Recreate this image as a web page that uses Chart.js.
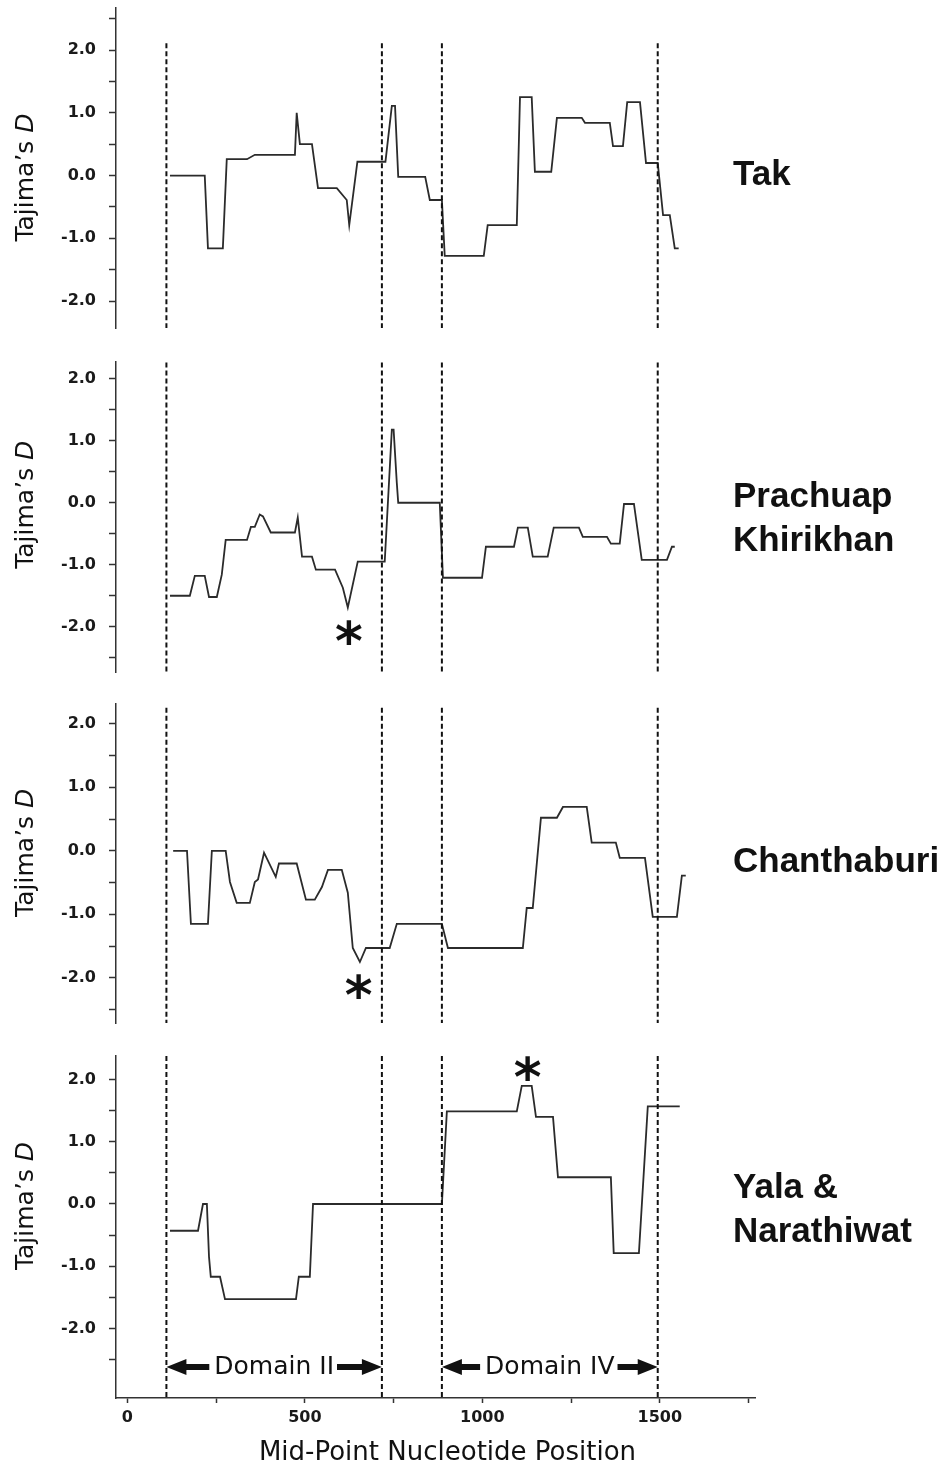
<!DOCTYPE html>
<html>
<head>
<meta charset="utf-8">
<script src="https://cdn.jsdelivr.net/npm/chart.js@4.4.1/dist/chart.umd.min.js"></script>
<style>
  body { margin: 0; background: #fff; width: 950px; height: 1464px; position: relative; overflow: hidden; }
  canvas { position: absolute; left: 0; }
  .lbl { position: absolute; left: 733px; font: bold 35px "Liberation Sans", Arial, sans-serif; line-height: 44px; color: #111; white-space: nowrap; }
  #xtitle { position: absolute; left: 0; width: 895px; top: 1436px; text-align: center; font: 26px "DejaVu Sans", sans-serif; line-height: 30px; color: #111; }
</style>
</head>
<body>
<canvas id="c1"></canvas>
<canvas id="c2"></canvas>
<canvas id="c3"></canvas>
<canvas id="c4"></canvas>
<div class="lbl" style="top:151px">Tak</div>
<div class="lbl" style="top:473px">Prachuap<br>Khirikhan</div>
<div class="lbl" style="top:838px">Chanthaburi</div>
<div class="lbl" style="top:1164px">Yala &amp;<br>Narathiwat</div>
<div id="xtitle">Mid-Point Nucleotide Position</div>
<script>
var ink = "#2b2b2b";

// Domaines (positions en nucléotides)
const domainNames = ["Domain II", "Domain IV"];
const domainStart = [110, 886];
const domainEnd = [717, 1494];

const yTickValues = [-2.5, -2, -1.5, -1, -0.5, 0, 0.5, 1, 1.5, 2, 2.5];
const xTickValues = [0, 250, 500, 750, 1000, 1250, 1500, 1750];

// Tak
const takX = [120, 218, 227, 269, 280, 337, 359, 472, 477, 486, 520, 537, 590, 618, 625, 648, 727, 745, 754, 763,
  839, 852, 886, 894, 1004, 1015, 1097, 1106, 1139, 1148, 1194, 1210, 1280, 1289, 1359, 1368, 1396, 1408, 1444, 1461,
  1494, 1509, 1528, 1542, 1553];
const takY = [0, 0, -1.16, -1.16, 0.26, 0.26, 0.33, 0.33, 1.0, 0.5, 0.5, -0.2, -0.2, -0.39, -0.79, 0.22, 0.22, 1.11, 1.11, -0.02,
  -0.02, -0.39, -0.39, -1.28, -1.28, -0.79, -0.79, 1.25, 1.25, 0.06, 0.06, 0.92, 0.92, 0.84, 0.84, 0.47, 0.47, 1.17, 1.17, 0.2,
  0.2, -0.63, -0.63, -1.16, -1.16];

// Prachuap Khirikhan
const prachuapX = [120, 176, 190, 218, 230, 252, 266, 277, 337, 348, 359, 373, 382, 404, 472, 480, 492, 520, 531, 585,
  607, 621, 649, 725, 745, 750, 759, 763, 880, 889, 999, 1010, 1089, 1100, 1128, 1142, 1184, 1201, 1272, 1283,
  1351, 1362, 1387, 1399, 1427, 1449, 1520, 1534, 1542];
const prachuapY = [-1.5, -1.5, -1.18, -1.18, -1.52, -1.52, -1.16, -0.6, -0.6, -0.39, -0.39, -0.19, -0.22, -0.48, -0.48, -0.24, -0.87, -0.87, -1.08, -1.08,
  -1.37, -1.69, -0.95, -0.95, 1.18, 1.18, 0.32, 0, 0, -1.21, -1.21, -0.71, -0.71, -0.4, -0.4, -0.87, -0.87, -0.4, -0.4, -0.55,
  -0.55, -0.66, -0.66, -0.02, -0.02, -0.92, -0.92, -0.71, -0.71];

// Chanthaburi
const chanthaburiX = [129, 168, 179, 227, 238, 277, 289, 308, 345, 359, 368, 385, 418, 427, 477, 503, 528, 548, 565, 604,
  621, 635, 655, 672, 739, 759, 886, 903, 1114, 1125, 1142, 1165, 1210, 1227, 1294, 1308, 1376, 1387, 1458, 1480,
  1548, 1562, 1573];
const chanthaburiY = [0, 0, -1.15, -1.15, 0, 0, -0.49, -0.82, -0.82, -0.49, -0.45, -0.03, -0.41, -0.2, -0.2, -0.77, -0.77, -0.57, -0.3, -0.3,
  -0.66, -1.53, -1.75, -1.53, -1.53, -1.15, -1.15, -1.53, -1.53, -0.9, -0.9, 0.52, 0.52, 0.69, 0.69, 0.13, 0.13, -0.11, -0.11, -1.04,
  -1.04, -0.39, -0.39];

// Yala & Narathiwat
const yalaX = [120, 199, 213, 224, 230, 235, 261, 275, 475, 483, 514, 523, 886, 900, 1097, 1111, 1139, 1151, 1199, 1213,
  1362, 1370, 1441, 1466, 1556];
const yalaY = [-0.43, -0.43, 0, 0, -0.85, -1.17, -1.17, -1.53, -1.53, -1.17, -1.17, 0, 0, 1.49, 1.49, 1.9, 1.9, 1.4, 1.4, 0.43,
  0.43, -0.79, -0.79, 1.57, 1.57];

// Asterischi (x, D)
const prachuapStar = [624, -2.10];
const chanthaburiStar = [652, -2.13];
const yalaStar = [1128, 2.18];

const panels = [
  { id: "c1", xs: takX, ys: takY, star: null, top: 8, bottom: 328, ymin: -2.43, ymax: 2.67, dashTop: 2.11 },
  { id: "c2", xs: prachuapX, ys: prachuapY, star: prachuapStar, top: 362, bottom: 672, ymin: -2.73, ymax: 2.27, dashTop: 2.26 },
  { id: "c3", xs: chanthaburiX, ys: chanthaburiY, star: chanthaburiStar, top: 704, bottom: 1023, ymin: -2.71, ymax: 2.31, dashTop: 2.25 },
  { id: "c4", xs: yalaX, ys: yalaY, star: yalaStar, top: 1056, bottom: 1398, ymin: -3.12, ymax: 2.38, dashTop: 2.38, xAxis: true },
];

function drawStar(ctx, cx, cy) {
  ctx.font = "bold 100px 'DejaVu Sans'";
  let m = ctx.measureText("*");
  let size = 100 * 26 / (m.actualBoundingBoxLeft + m.actualBoundingBoxRight);
  ctx.font = "bold " + size + "px 'DejaVu Sans'";
  m = ctx.measureText("*");
  ctx.textAlign = "left";
  ctx.textBaseline = "alphabetic";
  let x = cx - (m.actualBoundingBoxRight - m.actualBoundingBoxLeft) / 2;
  let y = cy + (m.actualBoundingBoxAscent - m.actualBoundingBoxDescent) / 2;
  ctx.fillText("*", x, y);
}

function drawArrow(ctx, tip, end, y) {
  let dir = end > tip ? 1 : -1;
  let head = 20;
  ctx.beginPath();
  ctx.moveTo(tip, y);
  ctx.lineTo(tip + dir * head, y - 8);
  ctx.lineTo(tip + dir * head, y - 3);
  ctx.lineTo(end, y - 3);
  ctx.lineTo(end, y + 3);
  ctx.lineTo(tip + dir * head, y + 3);
  ctx.lineTo(tip + dir * head, y + 8);
  ctx.closePath();
  ctx.fill();
}

function annotations(p) {
  return {
    id: "annot",
    afterDatasetsDraw(chart) {
      const ctx = chart.ctx;
      const xs = chart.scales.x;
      const ys = chart.scales.y;
      ctx.save();
      ctx.fillStyle = "#111";

      // Tajima's D
      ctx.save();
      ctx.translate(26, ys.getPixelForValue(0) + 2);
      ctx.rotate(-Math.PI / 2);
      ctx.textBaseline = "middle";
      ctx.textAlign = "left";
      ctx.font = "25px 'DejaVu Sans'";
      let w1 = ctx.measureText("Tajima\u2019s ").width;
      ctx.font = "italic 25px 'DejaVu Sans'";
      let w2 = ctx.measureText("D").width;
      ctx.font = "25px 'DejaVu Sans'";
      ctx.fillText("Tajima\u2019s ", -(w1 + w2) / 2, 0);
      ctx.font = "italic 25px 'DejaVu Sans'";
      ctx.fillText("D", -(w1 + w2) / 2 + w1, 0);
      ctx.restore();

      if (p.star) drawStar(ctx, xs.getPixelForValue(p.star[0]), ys.getPixelForValue(p.star[1]));

      if (p.xAxis) {
        let y = ys.getPixelForValue(-2.62);
        ctx.font = "25px 'DejaVu Sans'";
        ctx.textBaseline = "middle";
        ctx.textAlign = "center";
        for (let i = 0; i < domainNames.length; i++) {
          let a = xs.getPixelForValue(domainStart[i]);
          let b = xs.getPixelForValue(domainEnd[i]);
          let mid = (a + b) / 2;
          let tw = ctx.measureText(domainNames[i]).width;
          ctx.fillText(domainNames[i], mid, y + 1);
          drawArrow(ctx, a, mid - tw / 2 - 5, y);
          drawArrow(ctx, b, mid + tw / 2 + 3, y);
        }
      }
      ctx.restore();
    },
  };
}

for (let p of panels) {
  const canvas = document.getElementById(p.id);
  const padTop = 14;
  const padBottom = p.xAxis ? 0 : 14;
  const xAxisH = p.xAxis ? 40 : 0;
  canvas.width = 950;
  canvas.height = (p.bottom - p.top) + padTop + padBottom + xAxisH;
  canvas.style.top = (p.top - padTop) + "px";

  let datasets = [];
  for (let b of domainStart.concat(domainEnd)) {
    datasets.push({
      data: [{ x: b, y: p.dashTop }, { x: b, y: p.ymin }],
      borderColor: "#111",
      borderWidth: 2,
      borderDash: [5, 3],
      pointRadius: 0,
    });
  }
  datasets.push({
    data: p.xs.map((x, i) => ({ x: x, y: p.ys[i] })),
    borderColor: ink,
    borderWidth: 1.8,
    tension: 0,
    pointRadius: 0,
  });

  new Chart(canvas, {
    type: "line",
    data: { datasets },
    options: {
      responsive: false,
      animation: false,
      events: [],
      layout: { padding: { top: padTop, bottom: padBottom, left: 0, right: 195 } },
      plugins: { legend: { display: false }, tooltip: { enabled: false } },
      scales: {
        x: {
          type: "linear",
          min: -32,
          max: 1768,
          display: !!p.xAxis,
          afterFit: (s) => {
            s.height = xAxisH;
            s.paddingLeft = 0;
            s.paddingRight = 0;
          },
          afterBuildTicks: (s) => { s.ticks = xTickValues.map((v) => ({ value: v })); },
          ticks: {
            autoSkip: false,
            maxRotation: 0,
            padding: 5,
            color: "#1a1a1a",
            font: { family: "DejaVu Sans", size: 16, weight: "bold" },
            callback: (v) => (v % 500 === 0 ? String(v) : ""),
          },
          grid: { display: true, drawOnChartArea: false, drawTicks: true, tickLength: 5, tickWidth: 1.5, tickColor: "#333" },
          border: { display: true, color: "#333", width: 1.5 },
        },
        y: {
          type: "linear",
          min: p.ymin,
          max: p.ymax,
          afterFit: (s) => {
            s.width = 116;
            s.paddingTop = 0;
            s.paddingBottom = 0;
          },
          afterBuildTicks: (s) => {
            s.ticks = yTickValues.filter((v) => v >= p.ymin && v <= p.ymax).map((v) => ({ value: v }));
          },
          ticks: {
            padding: 13,
            color: "#1a1a1a",
            font: { family: "DejaVu Sans", size: 16, weight: "bold" },
            callback: (v) => (Number.isInteger(v) ? v.toFixed(1) : ""),
          },
          grid: { display: true, drawOnChartArea: false, drawTicks: true, tickLength: 7, tickWidth: 1.5, tickColor: "#333" },
          border: { display: true, color: "#333", width: 1.5 },
        },
      },
    },
    plugins: [annotations(p)],
  });
}
</script>
</body>
</html>
